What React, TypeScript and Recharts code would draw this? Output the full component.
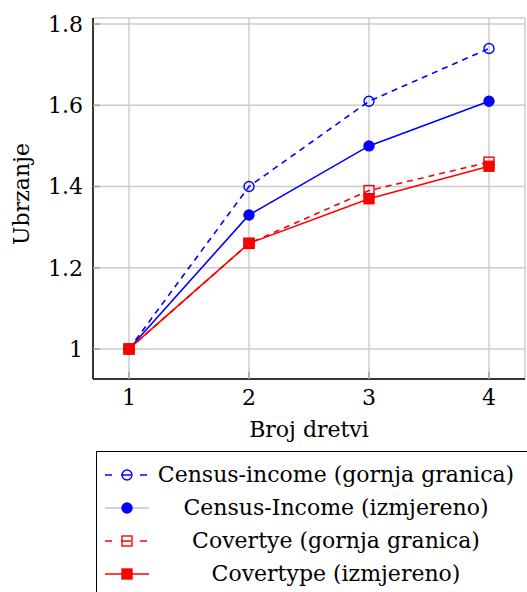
import React from "react";
import {
    LineChart,
    Line,
    CartesianGrid,
    XAxis,
    YAxis,
} from "recharts";

const threads = [1, 2, 3, 4];
const censusUpper = [1, 1.4, 1.61, 1.74];
const censusMeasured = [1, 1.33, 1.5, 1.61];
const coverUpper = [1, 1.26, 1.39, 1.46];
const coverMeasured = [1, 1.26, 1.37, 1.45];

const yTicks = [1, 1.2, 1.4, 1.6, 1.8];

const FONT = "DejaVu Serif";
const FS = 22;
const BLUE = "#0000ff";
const RED = "#ff0000";
const X_DOMAIN = [0.7, 4.3];
const Y_DOMAIN = [0.926, 1.815];

type Series = {
    key: string;
    name: string;
    color: string;
    dashed: boolean;
    marker: "circle" | "square";
    filled: boolean;
};

const series: Series[] = [
    { key: "censusUpper", name: "Census-income (gornja granica)", color: BLUE, dashed: true, marker: "circle", filled: false },
    { key: "censusMeasured", name: "Census-Income (izmjereno)", color: BLUE, dashed: false, marker: "circle", filled: true },
    { key: "coverUpper", name: "Covertye (gornja granica)", color: RED, dashed: true, marker: "square", filled: false },
    { key: "coverMeasured", name: "Covertype (izmjereno)", color: RED, dashed: false, marker: "square", filled: true },
];

const data = threads.map((t, i) => ({
    threads: t,
    censusUpper: censusUpper[i],
    censusMeasured: censusMeasured[i],
    coverUpper: coverUpper[i],
    coverMeasured: coverMeasured[i],
}));

function Marker({ cx, cy, s, k }: { cx: number; cy: number; s: Series; k?: string }) {
    const fill = s.filled ? s.color : "none";
    if (s.marker === "circle") {
        return <circle key={k} cx={cx} cy={cy} r={5} fill={fill} stroke={s.color} strokeWidth={1.4} />;
    }
    const half = 5;
    return (
        <rect key={k} x={cx - half} y={cy - half} width={half * 2} height={half * 2} fill={fill} stroke={s.color} strokeWidth={1.4} />
    );
}

function YLabel() {
    return (
        <text
            x={21}
            y={194}
            transform="rotate(-90, 21, 194)"
            textAnchor="middle"
            dominantBaseline="central"
            fontFamily={FONT}
            fontSize={FS}
            fill="#000"
        >
            Ubrzanje
        </text>
    );
}

function LegendBox() {
    return (
        <div
            style={{
                position: "absolute",
                left: 96,
                top: 451,
                width: 450,
                height: 160,
                border: "1.5px solid #000",
                background: "#fff",
                boxSizing: "border-box",
                fontFamily: FONT,
                fontSize: FS,
                paddingTop: 6,
            }}
        >
            {series.map((s) => (
                <div key={s.key} style={{ display: "flex", alignItems: "center", height: 33 }}>
                    <svg width={58} height={20} style={{ flex: "none" }}>
                        <line
                            x1={8}
                            y1={10}
                            x2={52}
                            y2={10}
                            stroke={s.dashed ? s.color : s.color === BLUE ? "#9a9aff" : RED}
                            strokeWidth={s.dashed ? 1.4 : s.color === BLUE ? 1 : 1.5}
                            strokeDasharray={s.dashed ? "7 9 10 9 7" : undefined}
                        />
                        <Marker cx={30} cy={10} s={s} />
                    </svg>
                    <div style={{ width: 362, textAlign: "center", whiteSpace: "nowrap" }}>{s.name}</div>
                </div>
            ))}
        </div>
    );
}

const axisLine = { stroke: "#000", strokeWidth: 1.5 };
const tickLine = { stroke: "#a0a0a0", strokeWidth: 1.5 };

export default function App() {
    return (
        <div style={{ position: "absolute", left: 0, top: 0, width: 527, height: 592, overflow: "hidden", background: "#fff" }}>
            <LineChart
                width={527}
                height={592}
                data={data}
                margin={{ top: 18, right: 2, bottom: 147, left: 0 }}
            >
                <CartesianGrid stroke="#cccccc" strokeWidth={1.5} />
                <XAxis
                    dataKey="threads"
                    type="number"
                    domain={X_DOMAIN}
                    ticks={threads}
                    allowDataOverflow
                    height={66}
                    tickSize={-7}
                    tickLine={tickLine}
                    axisLine={axisLine}
                    tickMargin={17}
                    tick={{ fill: "#000", fontFamily: FONT, fontSize: FS }}
                    label={{ value: "Broj dretvi", position: "insideBottom", offset: 8, fill: "#000", fontFamily: FONT, fontSize: FS }}
                />
                <XAxis
                    xAxisId="top"
                    orientation="top"
                    dataKey="threads"
                    type="number"
                    domain={X_DOMAIN}
                    ticks={threads}
                    allowDataOverflow
                    height={0}
                    tickSize={-7}
                    tickLine={tickLine}
                    tickFormatter={() => ""}
                    axisLine={axisLine}
                />
                <YAxis
                    type="number"
                    domain={Y_DOMAIN}
                    ticks={yTicks}
                    allowDataOverflow
                    width={93}
                    tickSize={-7}
                    tickLine={tickLine}
                    axisLine={axisLine}
                    tickMargin={17}
                    tickFormatter={(v: number) => (v === 1 ? "1" : v.toFixed(1))}
                    tick={{ fill: "#000", fontFamily: FONT, fontSize: FS }}
                />
                <YAxis
                    yAxisId="right"
                    orientation="right"
                    type="number"
                    domain={Y_DOMAIN}
                    ticks={yTicks}
                    allowDataOverflow
                    width={0}
                    tickSize={-7}
                    tickLine={tickLine}
                    tickFormatter={() => ""}
                    axisLine={axisLine}
                />
                {series.map((s) => (
                    <Line
                        key={s.key}
                        dataKey={s.key}
                        name={s.name}
                        type="linear"
                        stroke={s.color}
                        strokeWidth={1.6}
                        strokeDasharray={s.dashed ? "6 5" : undefined}
                        isAnimationActive={false}
                        dot={(p: any) => <Marker k={`${s.key}-${p.index}`} cx={p.cx} cy={p.cy} s={s} />}
                        activeDot={false}
                    />
                ))}
                <YLabel />
            </LineChart>
            <LegendBox />
        </div>
    );
}
